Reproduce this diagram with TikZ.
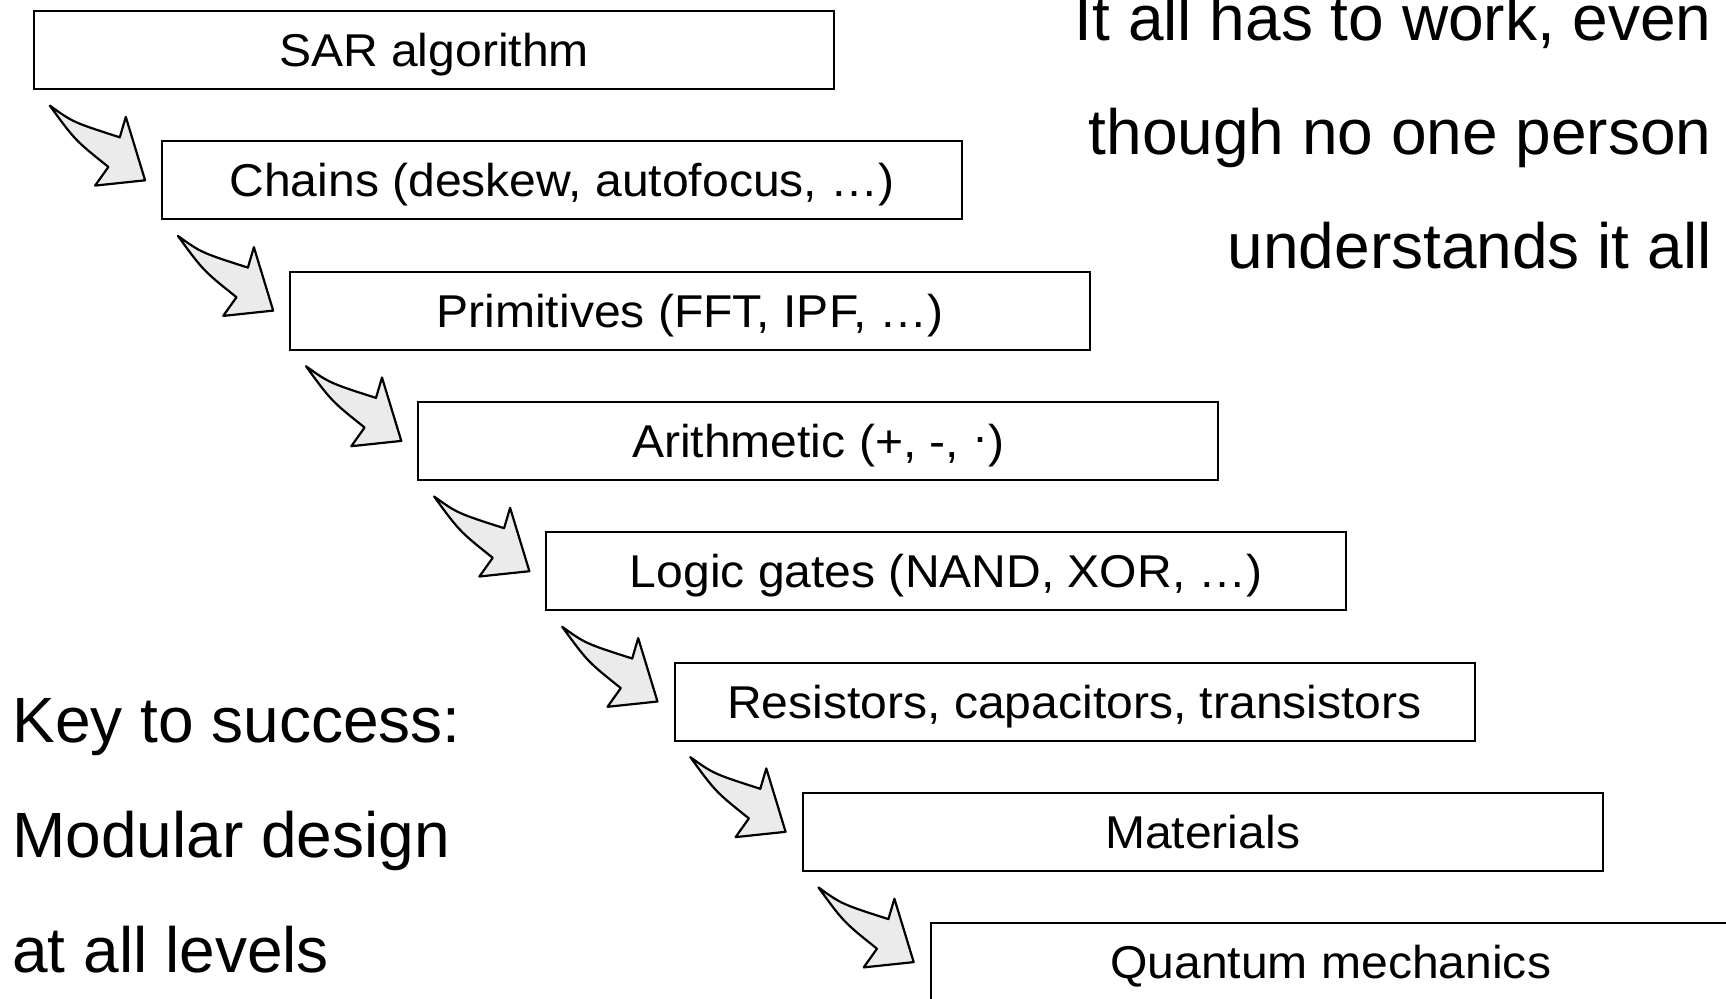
\documentclass[tikz,border=0pt]{standalone}
\usepackage{fontspec}
\setmainfont{Liberation Sans}
\newfontfamily\boxfont[FakeStretch=1.045]{Liberation Sans}
\begin{document}
\begin{tikzpicture}[x=0.5pt,y=-0.5pt,
  layer/.style={draw=black, line width=1pt, fill=white, minimum width=400pt,
    minimum height=39pt, inner sep=0pt, text height=16.5pt, text depth=0pt,
    font=\boxfont\fontsize{23pt}{27pt}\selectfont},
  bigtext/.style={inner sep=0pt, font=\fontsize{32pt}{38pt}\selectfont},
  flowarrow/.style={draw=black, line width=1.1pt, fill=black!8, line join=round},
  pics/bentarrow/.style={code={
    \path[flowarrow] (-95.3,-74.7) .. controls (-72,-58) .. (-25.3,-43)
      -- (-19.3,-63.4) -- (0,0) -- (-50,5.3) -- (-36.7,-13.4)
      .. controls (-70,-40) .. (-95.3,-74.7) -- cycle;
  }}]
\useasboundingbox (0,0) rectangle (1726,998);
\clip (0,0) rectangle (1726,998);

\node[layer] (l0) at (434,50) {SAR algorithm};
\node[layer] (l1) at (562.1,180.3) {Chains (deskew, autofocus, …)};
\node[layer] (l2) at (690.2,310.6) {Primitives (FFT, IPF, …)};
\node[layer] (l3) at (818.3,440.9) {Arithmetic (+, -, \raisebox{0.1em}{·})};
\node[layer] (l4) at (946.4,571.2) {Logic gates (NAND, XOR, …)};
\node[layer] (l5) at (1074.5,701.5) {Resistors, capacitors, transistors};
\node[layer] (l6) at (1202.6,831.8) {Materials};
\node[layer] (l7) at (1330.7,962.1) {Quantum mechanics};

\foreach \n in {l1,l2,l3,l4,l5,l6,l7}{
  \pic at ([xshift=-8pt]\n.west) {bentarrow};
}

\node[bigtext, anchor=base east] (r1) at (1712,40.7) {It all has to work, even};
\node[bigtext, anchor=base east] (r2) at (1712,154) {though no one person};
\node[bigtext, anchor=base east] (r3) at (1712,268.6) {understands it all};

\node[bigtext, anchor=base west] (k1) at (12,742) {Key to success:};
\node[bigtext, anchor=base west] (k2) at (12,857) {Modular design};
\node[bigtext, anchor=base west] (k3) at (12,972) {at all levels};
\end{tikzpicture}
\end{document}
